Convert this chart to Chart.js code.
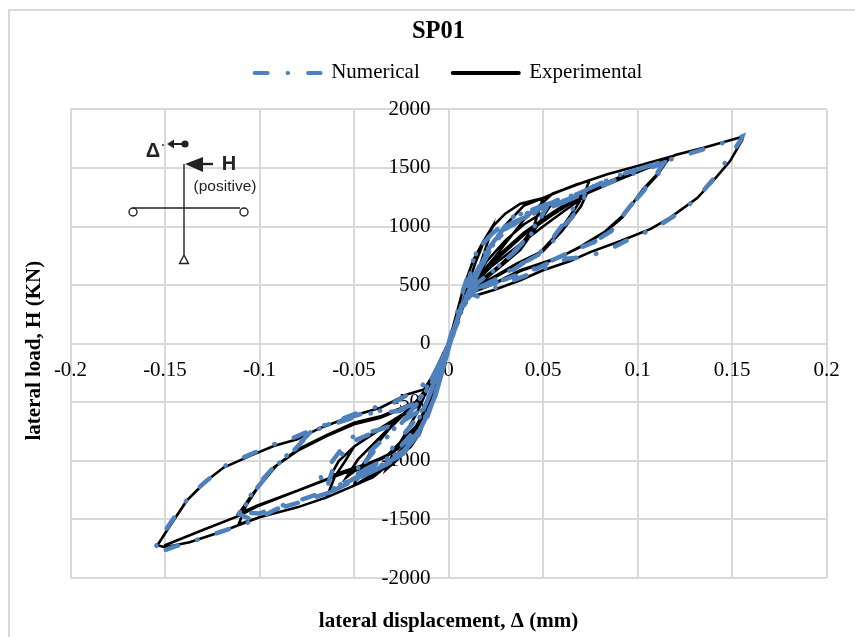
<!DOCTYPE html>
<html>
<head>
<meta charset="utf-8">
<title>SP01</title>
<script src="https://cdn.jsdelivr.net/npm/chart.js@4"></script>
<style>
    html, body { margin: 0; padding: 0; background: #fff; overflow: hidden; }
    #frame { position: absolute; left: 8px; top: 9px; width: 847px; height: 628px; border-left: 2px solid #d9d9d9; border-top: 2px solid #d9d9d9; box-sizing: border-box; }
    #chart { position: absolute; left: 22px; top: 0; }
</style>
</head>
<body>
<div id="frame"></div>
<canvas id="chart" width="833" height="637"></canvas>
<script>
const xTicks = [-0.2, -0.15, -0.1, -0.05, 0, 0.05, 0.1, 0.15, 0.2];
const yTicks = [-2000, -1500, -1000, -500, 0, 500, 1000, 1500, 2000];

// experimental loops, one row per half cycle
const expDisp = [
    0, .004, .008, .013, .018, .023, .021, .016, .011, .006, .002,
    -.002, -.006, -.01, -.014, -.02, -.027, -.033, -.03, -.024, -.017, -.012, -.007, -.003,
    .001, .005, .009, .014, .019, .024, .03, .038, .05, .045, .038, .027, .017, .0106, .006, .002,
    -.002, -.006, -.011, -.015, -.02, -.03, -.04, -.05, -.046, -.04, -.032, -.024, -.017, -.012, -.007, -.003,
    .002, .006, .013, .02, .03, .04, .05, .054, .045, .038, .027, .017, .01, .005, .002,
    -.002, -.006, -.011, -.017, -.027, -.04, -.05, -.054, -.048, -.04, -.032, -.024, -.017, -.012, -.007, -.003,
    .002, .006, .013, .02, .03, .04, .05, .06, .068, .0745, .072, .068, .059, .0486, .036, .024, .0115, .006, .002,
    -.002, -.006, -.011, -.017, -.027, -.04, -.05, -.0645, -.06, -.055, -.05, -.036, -.025, -.017, -.012, -.007, -.003,
    .002, .006, .012, .022, .034, .05, .061, .0715, .0735, .07, .06, .05, .036, .024, .012, .006, .002,
    -.002, -.006, -.011, -.017, -.03, -.04, -.05, -.0625, -.058, -.05, -.036, -.025, -.017, -.012, -.007, -.003,
    .002, .006, .012, .024, .04, .055, .0715, .084, .1, .1166, .112, .103, .092, .084, .0715, .059, .038, .024, .012, .006, .002,
    -.002, -.006, -.011, -.017, -.0327, -.05, -.0645, -.08, -.1, -.111, -.107, -.1014, -.0925, -.08, -.0645, -.05, -.036, -.017, -.012, -.007, -.003,
    .002, .006, .012, .024, .04, .055, .0715, .09, .1157, .11, .102, .092, .083, .07, .058, .038, .024, .012, .006, .002,
    -.002, -.006, -.011, -.017, -.0327, -.05, -.0645, -.08, -.1014, -.111, -.105, -.1, -.091, -.08, -.0645, -.05, -.036, -.017, -.012, -.007, -.003,
    .002, .006, .012, .024, .04, .055, .0715, .09, .11, .12, .135, .1546, .1555, .149, .14, .1316, .1175, .107, .091, .075, .0645, .05, .038, .024, .015, .0097, .006, .002,
    -.002, -.006, -.011, -.017, -.0327, -.05, -.0645, -.08, -.1, -.121, -.137, -.15, -.154, -.149, -.1385, -.128, -.119, -.105, -.0925, -.08, -.0675, -.05, -.036, -.022, -.013, -.007, -.003,
    0, -.004, -.01, -.017, -.0327, -.05, -.08, -.1014, -.111, -.13, -.15
];
const expLoad = [
    0, 240, 480, 710, 860, 994, 880, 640, 440, 240, 60,
    -90, -260, -470, -660, -860, -990, -1075, -960, -800, -600, -420, -230, -90,
    40, 230, 430, 680, 880, 1010, 1110, 1195, 1243, 994, 839, 669, 542, 443, 260, 70,
    -90, -300, -560, -760, -880, -1010, -1140, -1205, -1050, -900, -740, -610, -500, -400, -240, -90,
    70, 290, 520, 700, 880, 1020, 1120, 1180, 960, 800, 650, 520, 430, 220, 70,
    -90, -290, -530, -720, -900, -1020, -1090, -1140, -990, -860, -730, -600, -490, -390, -230, -90,
    70, 300, 540, 780, 1010, 1180, 1243, 1310, 1362, 1392, 1285, 1178, 966, 782, 684, 571, 458, 260, 70,
    -90, -300, -560, -760, -970, -1140, -1212, -1312, -1130, -1010, -880, -730, -620, -540, -420, -240, -90,
    70, 290, 480, 650, 800, 1000, 1130, 1250, 1290, 1170, 960, 790, 670, 560, 450, 260, 70,
    -90, -290, -520, -700, -930, -1010, -1060, -1128, -1000, -880, -720, -610, -530, -410, -240, -90,
    70, 290, 500, 730, 1060, 1280, 1378, 1446, 1517, 1593, 1475, 1319, 1079, 966, 839, 740, 627, 514, 440, 270, 70,
    -90, -300, -570, -760, -1040, -1212, -1312, -1397, -1482, -1540, -1380, -1240, -1057, -915, -788, -688, -632, -504, -420, -240, -90,
    70, 290, 510, 720, 950, 1120, 1291, 1420, 1559, 1430, 1290, 1090, 960, 830, 730, 620, 510, 435, 265, 70,
    -90, -300, -560, -702, -957, -1071, -1156, -1255, -1382, -1453, -1310, -1210, -1040, -905, -780, -675, -620, -495, -410, -235, -90,
    70, 300, 520, 700, 930, 1100, 1270, 1400, 1530, 1610, 1672, 1763, 1743, 1559, 1390, 1243, 1079, 980, 876, 782, 706, 627, 542, 458, 415, 415, 270, 70,
    -90, -310, -590, -770, -1050, -1212, -1312, -1397, -1482, -1609, -1694, -1737, -1720, -1595, -1340, -1170, -1057, -958, -873, -816, -717, -612, -547, -433, -391, -240, -90,
    0, -190, -480, -730, -965, -1071, -1255, -1390, -1470, -1590, -1720
];

// numerical loops, same loading order, blue trace
const numDisp = [
    0, .004, .008, .011, .015, .023, .018, .013, .008, .003,
    -.0035, -.007, -.0115, -.0168, -.0238, -.029, -.036, -.029, -.02, -.0133, -.007, -.0035,
    .002, .006, .011, .015, .023, .0336, .05, .045, .038, .027, .015, .009, .004,
    -.0035, -.007, -.0115, -.0168, -.0238, -.036, -.0486, -.044, -.036, -.026, -.0168, -.009, -.0035,
    .002, .006, .0133, .022, .03, .045, .052, .045, .036, .025, .014, .008, .003,
    -.0035, -.007, -.0115, -.0168, -.026, -.04, -.05, -.044, -.035, -.025, -.016, -.009, -.0035,
    .002, .006, .0133, .022, .03, .045, .06, .0724, .0654, .061, .0557, .052, .0486, .0327, .0239, .0133, .007, .003,
    -.0035, -.007, -.0115, -.0168, -.0238, -.036, -.0486, -.0627, -.068, -.0627, -.052, -.036, -.022, -.0133, -.007, -.003,
    .002, .006, .0133, .022, .032, .047, .06, .07, .063, .056, .05, .035, .025, .014, .007, .003,
    -.0035, -.007, -.0115, -.0168, -.026, -.04, -.052, -.064, -.06, -.05, -.037, -.023, -.013, -.007, -.003,
    .002, .006, .0133, .02, .028, .038, .05, .06, .0724, .062, .05, .038, .028, .02, .012, .006, .002,
    -.0035, -.007, -.0115, -.0168, -.024, -.032, -.042, -.052, -.06, -.05, -.04, -.03, -.02, -.012, -.006, -.002,
    .002, .006, .0133, .022, .03, .045, .06, .07, .089, .1087, .1175, .114, .1087, .1034, .0928, .0857, .0769, .0645, .0468, .029, .0133, .007, .003,
    -.0035, -.007, -.0115, -.0168, -.0238, -.036, -.0486, -.0627, -.0786, -.091, -.103, -.111, -.1014, -.091, -.0827, -.0716, -.05, -.0398, -.0256, -.0168, -.009, -.0035,
    .002, .006, .0133, .022, .03, .045, .06, .075, .09, .105, .1165, .11, .103, .093, .086, .077, .065, .047, .03, .014, .007, .003,
    -.0035, -.007, -.0115, -.0168, -.0238, -.036, -.0486, -.0627, -.0786, -.091, -.1, -.11, -.101, -.092, -.083, -.072, -.05, -.04, -.026, -.017, -.009, -.0035,
    .002, .006, .0133, .022, .0336, .05, .07, .089, .1087, .1175, .1387, .1555, .155, .149, .14, .1316, .121, .1087, .098, .0857, .0733, .0627, .0486, .0274, .016, .0106, .005, .002,
    -.0035, -.007, -.0115, -.0168, -.0238, -.036, -.0486, -.0627, -.0786, -.091, -.103, -.1315, -.1457, -.1556, -.1545, -.151, -.1457, -.1368, -.128, -.117, -.1067, -.0925, -.082, -.0695, -.057, -.0433, -.029, -.0168, -.008, -.003, 0
];
const numLoad = [
    0, 230, 470, 620, 797, 938, 720, 500, 300, 110,
    -249, -447, -617, -788, -929, -1000, -1057, -873, -702, -561, -300, -130,
    80, 280, 560, 797, 938, 1079, 1178, 980, 839, 669, 514, 350, 160,
    -249, -447, -617, -788, -929, -1057, -1156, -1010, -850, -700, -520, -300, -130,
    80, 280, 520, 830, 1000, 1120, 1170, 960, 800, 640, 500, 320, 120,
    -240, -430, -600, -770, -930, -1040, -1120, -960, -820, -670, -500, -300, -130,
    80, 280, 540, 830, 1000, 1120, 1210, 1263, 1079, 1008, 881, 839, 768, 627, 542, 458, 320, 130,
    -249, -447, -617, -788, -929, -1057, -1156, -1269, -1128, -1028, -802, -731, -646, -561, -330, -130,
    80, 280, 520, 800, 1010, 1130, 1200, 1270, 1070, 920, 800, 640, 550, 460, 320, 130,
    -240, -440, -600, -770, -950, -1080, -1170, -1210, -1010, -830, -740, -650, -550, -330, -130,
    80, 280, 560, 790, 960, 1090, 1170, 1240, 1290, 1225, 1150, 1060, 930, 760, 520, 270, 80,
    -230, -430, -640, -810, -940, -1020, -1100, -1170, -1230, -1130, -1040, -960, -780, -520, -270, -90,
    80, 280, 540, 830, 1000, 1130, 1225, 1291, 1432, 1531, 1573, 1545, 1418, 1319, 1107, 952, 867, 782, 641, 542, 458, 330, 130,
    -249, -447, -617, -788, -929, -1057, -1156, -1269, -1354, -1411, -1510, -1453, -1212, -1028, -915, -731, -617, -575, -561, -504, -340, -140,
    80, 280, 530, 810, 980, 1110, 1200, 1300, 1410, 1490, 1560, 1430, 1300, 1110, 960, 870, 790, 650, 550, 465, 330, 130,
    -249, -447, -610, -780, -915, -1040, -1140, -1250, -1335, -1395, -1450, -1440, -1225, -1050, -930, -745, -630, -590, -575, -510, -340, -140,
    80, 280, 540, 830, 1079, 1178, 1291, 1432, 1531, 1573, 1678, 1771, 1750, 1602, 1404, 1243, 1107, 980, 910, 811, 740, 726, 627, 500, 401, 429, 220, 80,
    -249, -447, -617, -788, -929, -1057, -1156, -1269, -1354, -1411, -1510, -1666, -1737, -1793, -1722, -1623, -1496, -1297, -1170, -1028, -958, -859, -802, -717, -646, -561, -504, -391, -280, -110, 0
];

const toPoints = (xs, ys) => xs.map((x, i) => ({ x: x, y: ys[i] }));

// little loading sketch in the top left corner of the plot
const sketchPlugin = {
    id: "sketch",
    afterLayout(chart) {
        // the y title sits a bit below the middle of the plot
        chart.scales.yTitle.top += 14;
    },
    beforeDatasetsDraw(chart) {
        const ctx = chart.ctx;
        ctx.save();
        ctx.translate(-22, 0);
        ctx.strokeStyle = "#222";
        ctx.fillStyle = "#222";
        ctx.lineWidth = 1.4;
        ctx.beginPath();
        ctx.moveTo(184, 164); ctx.lineTo(184, 255);
        ctx.moveTo(133, 208); ctx.lineTo(240, 208);
        ctx.moveTo(184, 255); ctx.lineTo(179.5, 263.5); ctx.lineTo(188.5, 263.5); ctx.closePath();
        ctx.stroke();
        ctx.beginPath(); ctx.arc(133, 212, 4, 0, Math.PI * 2); ctx.stroke();
        ctx.beginPath(); ctx.arc(244, 212, 4, 0, Math.PI * 2); ctx.stroke();
        // top displacement arrow and dot
        ctx.lineWidth = 2;
        ctx.beginPath(); ctx.moveTo(185, 144); ctx.lineTo(172, 144); ctx.stroke();
        ctx.beginPath(); ctx.arc(185, 144, 3.6, 0, Math.PI * 2); ctx.fill();
        ctx.beginPath(); ctx.moveTo(167, 144); ctx.lineTo(174, 139.5); ctx.lineTo(174, 148.5); ctx.closePath(); ctx.fill();
        ctx.beginPath(); ctx.arc(163, 145, 0.9, 0, Math.PI * 2); ctx.fill();
        // load arrow
        ctx.lineWidth = 2.4;
        ctx.beginPath(); ctx.moveTo(213, 164); ctx.lineTo(198, 164); ctx.stroke();
        ctx.beginPath(); ctx.moveTo(185, 164); ctx.lineTo(203, 157); ctx.lineTo(203, 172); ctx.closePath(); ctx.fill();
        ctx.textAlign = "center";
        ctx.textBaseline = "middle";
        ctx.font = "bold 20px 'Liberation Sans'";
        ctx.fillText("Δ", 153, 151);
        ctx.fillText("H", 229, 164);
        ctx.font = "15.5px 'Liberation Sans'";
        ctx.fillText("(positive)", 225, 187);
        ctx.restore();
    }
};

const serif = "'Liberation Serif'";
const gridColor = "#d9d9d9";

// empty axis on an outer edge, only holds a fixed margin and maybe a title
const marginAxis = (axis, position, size, title) => ({
    type: "linear",
    axis: axis,
    position: position,
    grid: { display: false },
    border: { display: false },
    ticks: { display: false },
    title: title,
    afterFit: s => { if (axis === "x") s.height = size; else s.width = size; }
});

new Chart(document.getElementById("chart").getContext("2d"), {
    type: "scatter",
    plugins: [sketchPlugin],
    data: {
        datasets: [{
            label: "Numerical",
            data: toPoints(numDisp, numLoad),
            showLine: true,
            xAxisID: "x",
            yAxisID: "y",
            borderColor: "#4f81bd",
            backgroundColor: "#4f81bd",
            borderWidth: 4.5,
            borderCapStyle: "round",
            borderDash: [13, 20, 0.5, 20],
            pointRadius: 0
        }, {
            label: "Experimental",
            data: toPoints(expDisp, expLoad),
            showLine: true,
            xAxisID: "x",
            yAxisID: "y",
            borderColor: "#000",
            backgroundColor: "#000",
            borderWidth: 2.6,
            borderCapStyle: "round",
            pointRadius: 0
        }]
    },
    options: {
        responsive: false,
        animation: false,
        plugins: {
            tooltip: { enabled: false },
            title: {
                display: true,
                text: "SP01",
                color: "#000",
                font: { family: serif, size: 24.5, weight: "bold" },
                padding: { top: 17, bottom: -17 }
            },
            legend: {
                display: true,
                fullSize: false,
                labels: {
                    color: "#000",
                    font: { family: serif, size: 21 },
                    padding: 33,
                    usePointStyle: true,
                    pointStyle: "line",
                    pointStyleWidth: 66,
                    generateLabels(chart) {
                        return Chart.defaults.plugins.legend.labels.generateLabels(chart).map(item => {
                            const ds = chart.data.datasets[item.datasetIndex];
                            item.lineWidth = 4;
                            item.lineCap = "round";
                            item.lineDash = ds.borderDash || [];
                            item.strokeStyle = ds.borderColor;
                            return item;
                        });
                    }
                }
            }
        },
        scales: {
            x: {
                type: "linear",
                position: { y: 0 },
                min: -0.2,
                max: 0.2,
                afterBuildTicks: axis => { axis.ticks = xTicks.map(v => ({ value: v })); },
                grid: { color: gridColor, lineWidth: 2, drawTicks: false },
                border: { color: gridColor, width: 2 },
                ticks: {
                    color: "#000",
                    font: { family: serif, size: 21 },
                    padding: 14,
                    autoSkip: false,
                    maxRotation: 0,
                    callback: v => String(v)
                }
            },
            y: {
                type: "linear",
                // tick padding is ignored on a crossing axis, so sit the labels just left of x = 0
                position: { x: -0.0095 },
                min: -2000,
                max: 2000,
                afterBuildTicks: axis => { axis.ticks = yTicks.map(v => ({ value: v })); },
                grid: { color: gridColor, lineWidth: 2, drawTicks: false },
                border: { display: false },
                ticks: {
                    color: "#000",
                    font: { family: serif, size: 21 },
                    autoSkip: false,
                    callback: v => String(v)
                }
            },
            xTitle: marginAxis("x", "bottom", 59, {
                display: true,
                text: "lateral displacement, Δ (mm)",
                color: "#000",
                font: { family: serif, size: 21, weight: "bold" },
                padding: { top: 0, bottom: 3 }
            }),
            yTitle: marginAxis("y", "left", 48.5, {
                display: true,
                text: "lateral load, H (KN)",
                color: "#000",
                font: { family: serif, size: 21, weight: "bold" },
                padding: { top: 0, bottom: 0 }
            }),
            xTop: marginAxis("x", "top", 16, { display: false }),
            yRight: marginAxis("y", "right", 28.5, { display: false })
        }
    }
});
</script>
</body>
</html>
